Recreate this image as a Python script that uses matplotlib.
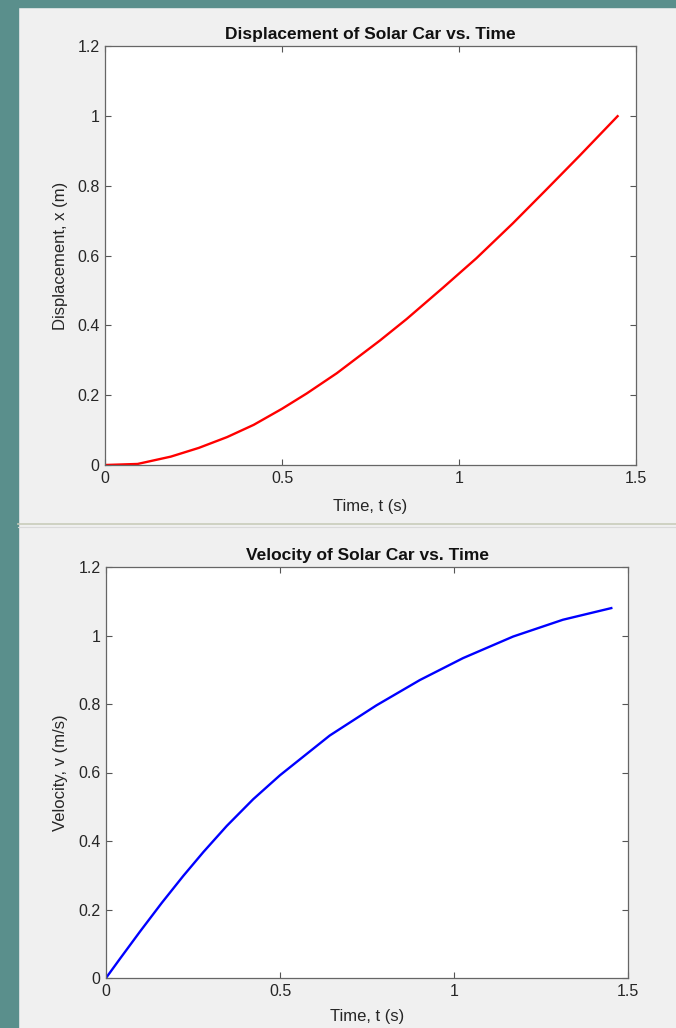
import matplotlib
matplotlib.use("Agg")
import matplotlib.pyplot as plt
from matplotlib.lines import Line2D
from matplotlib.patches import Rectangle
from matplotlib.ticker import FuncFormatter

# displacement readings (s, m)
disp_t = [0, 0.092, 0.186, 0.265, 0.345, 0.420, 0.5, 0.570, 0.655, 0.776,
          0.852, 0.955, 1.049, 1.152, 1.246, 1.340, 1.448]
disp_x = [0, 0.003, 0.024, 0.049, 0.080, 0.115, 0.161, 0.205, 0.263, 0.356,
          0.418, 0.508, 0.592, 0.692, 0.788, 0.885, 0.999]

# velocity readings (s, m/s)
vel_t = [0, 0.040, 0.098, 0.160, 0.222, 0.280, 0.347, 0.423, 0.5, 0.643,
         0.777, 0.902, 1.026, 1.170, 1.313, 1.452]
vel_v = [0, 0.056, 0.136, 0.219, 0.298, 0.368, 0.444, 0.522, 0.592, 0.708,
         0.796, 0.870, 0.934, 0.997, 1.046, 1.080]

x_ticks = [0, 0.5, 1, 1.5]
y_ticks = [0, 0.2, 0.4, 0.6, 0.8, 1.0, 1.2]

plt.rcParams['font.family'] = ['Liberation Sans', 'DejaVu Sans']

W, H = 676, 1028
fig = plt.figure(figsize=(W / 100, H / 100), dpi=100)
fig.patch.set_facecolor('#f0f0f0')

# teal window frame on the left and top
teal = '#5a8f8c'
fig.add_artist(Rectangle((0, 0), 18 / W, 1, transform=fig.transFigure,
                         color=teal, zorder=0))
fig.add_artist(Rectangle((0, 1 - 7 / H), 1, 7 / H, transform=fig.transFigure,
                         color=teal, zorder=0))

# divider between the two figure windows
fig.add_artist(Line2D([18 / W, 1], [1 - 523.5 / H] * 2, transform=fig.transFigure,
                      color='#c9ccbb', lw=1.2))
fig.add_artist(Line2D([18 / W, 1], [1 - 527 / H] * 2, transform=fig.transFigure,
                      color='#dadada', lw=0.8))


def fmt(v, pos):
    return '%g' % v


def style(ax, title, ylabel, ylab_x, xlab_y):
    ax.set_xlim(0, 1.5)
    ax.set_ylim(0, 1.2)
    ax.set_xticks(x_ticks)
    ax.set_yticks(y_ticks)
    ax.xaxis.set_major_formatter(FuncFormatter(fmt))
    ax.yaxis.set_major_formatter(FuncFormatter(fmt))
    ax.tick_params(direction='in', length=4, width=0.8, color='#555555',
                   labelsize=11.5, labelcolor='#262626', top=True, right=True,
                   pad=4)
    for s in ax.spines.values():
        s.set_color('#666666')
        s.set_linewidth(0.9)
    ax.set_title(title, fontsize=12.5, fontweight='bold', pad=5, color='#111111')
    ax.set_xlabel('Time, t (s)', fontsize=12, color='#262626')
    ax.set_ylabel(ylabel, fontsize=12, color='#262626')
    ax.yaxis.set_label_coords(ylab_x, 0.5)
    ax.xaxis.set_label_coords(0.5, xlab_y)


ax1 = fig.add_axes([105 / W, 1 - 465 / H, 531 / W, 419 / H])
ax1.plot(disp_t, disp_x, color='red', lw=1.7)
style(ax1, 'Displacement of Solar Car vs. Time', 'Displacement, x (m)', -0.07, -0.08)

ax2 = fig.add_axes([106 / W, 1 - 978 / H, 522 / W, 411 / H])
ax2.plot(vel_t, vel_v, color='blue', lw=1.7)
style(ax2, 'Velocity of Solar Car vs. Time', 'Velocity, v (m/s)', -0.072, -0.075)

fig.savefig('out.png', dpi=100, facecolor=fig.get_facecolor())
